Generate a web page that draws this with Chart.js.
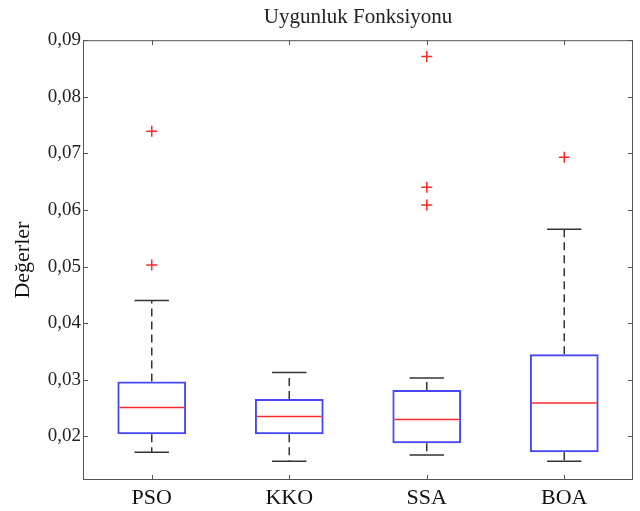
<!DOCTYPE html>
<html>
<head>
<meta charset="utf-8">
<script src="https://cdn.jsdelivr.net/npm/chart.js@4/dist/chart.umd.min.js"></script>
<style>
  html, body { margin: 0; padding: 0; background: #fff; }
  #wrap { width: 640px; height: 511px; }
</style>
</head>
<body>
<div id="wrap"><canvas id="boxChart"></canvas></div>
<script>
// Boxplot values
const categories = ['PSO', 'KKO', 'SSA', 'BOA'];
const q1 = [0.0204, 0.0204, 0.0188, 0.0172];
const q3 = [0.0297, 0.0266, 0.0282, 0.0345];
const medians = [0.0251, 0.0235, 0.0230, 0.0259];
const whiskerLow = [0.0172, 0.0156, 0.0167, 0.0156];
const whiskerHigh = [0.0440, 0.0313, 0.0303, 0.0566];
const outliers = [[0.0739, 0.0503], [], [0.0871, 0.0640, 0.0609], [0.0693]];
const yTicks = [0.02, 0.03, 0.04, 0.05, 0.06, 0.07, 0.08, 0.09];

const serif = "'Liberation Serif', 'Times New Roman', serif";

// Whiskers, medians, frame and inward ticks
const boxExtras = {
    id: 'boxExtras',
    afterDatasetsDraw(chart) {
        const ctx = chart.ctx;
        const x = chart.scales.x;
        const y = chart.scales.y;
        const area = chart.chartArea;
        const catW = (area.right - area.left) / categories.length;
        const boxW = catW * 0.5;
        const capW = catW * 0.25;

        ctx.save();
        categories.forEach((c, i) => {
            const cx = x.getPixelForValue(i);
            // dashed whiskers
            ctx.strokeStyle = '#333';
            ctx.lineWidth = 1.5;
            ctx.setLineDash([8, 5]);
            ctx.beginPath();
            ctx.moveTo(cx, y.getPixelForValue(q3[i]));
            ctx.lineTo(cx, y.getPixelForValue(whiskerHigh[i]));
            ctx.moveTo(cx, y.getPixelForValue(q1[i]));
            ctx.lineTo(cx, y.getPixelForValue(whiskerLow[i]));
            ctx.stroke();
            // caps
            ctx.setLineDash([]);
            ctx.beginPath();
            [whiskerHigh[i], whiskerLow[i]].forEach(v => {
                const py = y.getPixelForValue(v);
                ctx.moveTo(cx - capW / 2, py);
                ctx.lineTo(cx + capW / 2, py);
            });
            ctx.stroke();
            // median
            const my = y.getPixelForValue(medians[i]);
            ctx.strokeStyle = '#ff2a2a';
            ctx.lineWidth = 1.5;
            ctx.beginPath();
            ctx.moveTo(cx - boxW / 2 + 2, my);
            ctx.lineTo(cx + boxW / 2 - 2, my);
            ctx.stroke();
        });

        // axes frame
        ctx.strokeStyle = '#555';
        ctx.lineWidth = 1;
        ctx.strokeRect(area.left + 0.5, area.top + 0.5, area.right - area.left - 1, area.bottom - area.top - 1);

        // inward ticks
        const tl = 5;
        ctx.beginPath();
        yTicks.forEach(v => {
            const py = Math.round(y.getPixelForValue(v)) + 0.5;
            ctx.moveTo(area.left, py);
            ctx.lineTo(area.left + tl, py);
            ctx.moveTo(area.right, py);
            ctx.lineTo(area.right - tl, py);
        });
        categories.forEach((c, i) => {
            const px = Math.round(x.getPixelForValue(i)) + 0.5;
            ctx.moveTo(px, area.top);
            ctx.lineTo(px, area.top + tl);
            ctx.moveTo(px, area.bottom);
            ctx.lineTo(px, area.bottom - tl);
        });
        ctx.stroke();
        ctx.restore();
    }
};

const outlierPoints = [];
outliers.forEach((list, i) => {
    list.forEach(v => outlierPoints.push({ x: categories[i], y: v }));
});

new Chart(document.getElementById('boxChart'), {
    type: 'bar',
    data: {
        labels: categories,
        datasets: [
            {
                label: 'box',
                data: categories.map((c, i) => [q1[i], q3[i]]),
                backgroundColor: 'rgba(0,0,0,0)',
                borderColor: '#4646f5',
                borderWidth: 2,
                borderSkipped: false,
                barPercentage: 0.5,
                categoryPercentage: 1
            },
            {
                type: 'line',
                label: 'outliers',
                data: outlierPoints,
                showLine: false,
                pointStyle: 'cross',
                pointRadius: 5.5,
                pointBorderColor: '#ff2a2a',
                pointBorderWidth: 1.5,
                borderColor: '#ff2a2a'
            }
        ]
    },
    options: {
        responsive: true,
        maintainAspectRatio: false,
        animation: false,
        layout: { padding: { left: 0, right: 7, top: 0, bottom: 0 } },
        plugins: {
            legend: { display: false },
            tooltip: { enabled: false },
            title: {
                display: true,
                text: 'Uygunluk Fonksiyonu',
                fullSize: false,
                color: '#222',
                font: { family: serif, size: 21, weight: 'normal' },
                padding: { top: 5, bottom: 10 }
            }
        },
        scales: {
            x: {
                grid: { display: false, drawTicks: false },
                border: { display: false },
                ticks: {
                    color: '#111',
                    font: { family: serif, size: 22 },
                    padding: 5
                },
                afterFit(scale) { scale.height = 31; }
            },
            y: {
                min: 0.0123,
                max: 0.09,
                grid: { display: false, drawTicks: false },
                border: { display: false },
                afterBuildTicks(scale) {
                    scale.ticks = yTicks.map(v => ({ value: v }));
                },
                ticks: {
                    color: '#222',
                    font: { family: serif, size: 19 },
                    padding: 2,
                    callback: v => v.toFixed(2).replace('.', ',')
                },
                title: {
                    display: true,
                    text: 'Değerler',
                    color: '#111',
                    font: { family: serif, size: 22 },
                    padding: { top: 10, bottom: 0 }
                },
                afterFit(scale) { scale.width = 83; }
            }
        }
    },
    plugins: [boxExtras]
});
</script>
</body>
</html>
